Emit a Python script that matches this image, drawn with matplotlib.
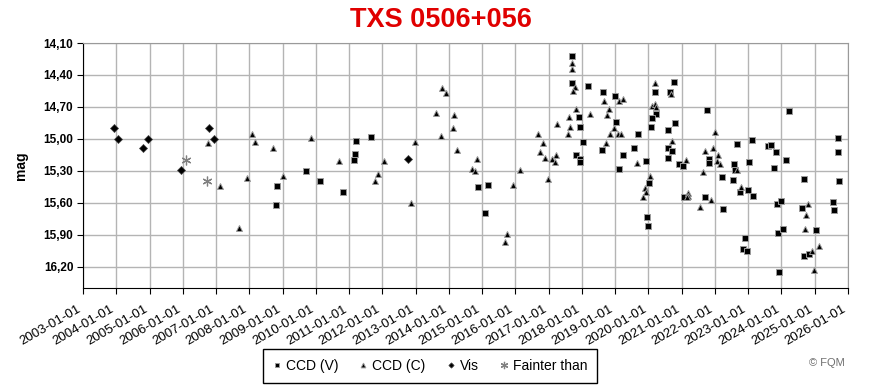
import matplotlib
matplotlib.use("Agg")
import matplotlib.pyplot as plt
import matplotlib.dates as mdates
import matplotlib.transforms as mtransforms
from datetime import datetime, timedelta

plt.rcParams['font.family'] = ['Liberation Sans', 'DejaVu Sans']

# observations: decimal year, magnitude
ccd_v_year = [2008.83, 2008.80, 2009.70, 2010.13, 2010.83, 2011.15, 2011.18, 2011.21, 2011.66,
              2014.86, 2015.17, 2015.09, 2017.69, 2017.69, 2018.19, 2018.64, 2019.00, 2017.91,
              2017.94, 2019.02, 2019.68, 2018.03, 2018.60, 2019.56, 2017.83, 2017.94, 2017.94,
              2019.23, 2019.93, 2019.11, 2020.02, 2019.95, 2019.99, 2020.20, 2020.77, 2020.65,
              2020.24, 2020.12, 2020.08, 2020.80, 2020.58, 2020.60, 2020.72, 2020.60, 2020.91,
              2021.04, 2021.07, 2021.76, 2021.83, 2021.83, 2022.22, 2021.70, 2022.25, 2022.67,
              2022.58, 2022.61, 2022.55, 2023.10, 2022.76, 2023.00, 2023.15, 2023.03, 2022.89,
              2022.85, 2022.95, 2023.60, 2023.67, 2023.82, 2024.15, 2023.76, 2024.24, 2023.87,
              2024.00, 2023.90, 2024.06, 2023.93, 2024.67, 2024.61, 2025.03, 2024.69, 2024.84,
              2025.69, 2025.69, 2025.72, 2025.56, 2025.59]
ccd_v_mag = [15.44, 15.62, 15.30, 15.40, 15.50, 15.20, 15.14, 15.02, 14.98,
             15.45, 15.43, 15.70, 14.22, 14.48, 14.50, 14.56, 14.60, 14.79,
             14.89, 14.84, 14.95, 15.03, 15.10, 15.09, 15.15, 15.19, 15.22,
             15.15, 15.21, 15.28, 15.41, 15.73, 15.82, 14.56, 14.47, 14.56,
             14.77, 14.80, 14.89, 14.85, 14.92, 15.09, 15.11, 15.18, 15.24,
             15.25, 15.55, 14.73, 15.19, 15.23, 15.36, 15.55, 15.66, 15.05,
             15.24, 15.29, 15.39, 15.01, 15.50, 15.48, 15.54, 15.22, 15.93,
             16.03, 16.05, 15.07, 15.06, 15.12, 15.20, 15.27, 14.74, 15.61,
             15.58, 15.88, 15.85, 16.25, 15.38, 15.65, 15.86, 16.10, 16.08,
             14.99, 15.12, 15.40, 15.59, 15.67]

ccd_c_year = [2006.76, 2007.12, 2007.69, 2007.93, 2008.09, 2008.18, 2008.71, 2009.02, 2009.86,
              2010.69, 2012.04, 2011.88, 2011.79, 2012.86, 2012.97, 2013.62, 2013.80, 2013.90,
              2013.75, 2014.14, 2014.12, 2014.24, 2014.84, 2014.68, 2014.78, 2015.75, 2015.68,
              2015.92, 2016.14, 2016.68, 2016.83, 2016.74, 2016.89, 2016.99, 2017.10, 2017.23,
              2017.20, 2017.24, 2017.70, 2017.70, 2017.79, 2017.73, 2017.83, 2017.62, 2017.64,
              2017.59, 2018.24, 2018.66, 2018.80, 2018.74, 2018.71, 2019.11, 2019.22, 2018.97,
              2018.84, 2019.07, 2019.18, 2019.65, 2020.06, 2019.91, 2019.93, 2019.83, 2020.21,
              2020.11, 2020.21, 2020.24, 2020.69, 2020.72, 2021.12, 2021.19, 2021.19, 2021.15,
              2021.54, 2022.01, 2021.70, 2021.94, 2022.10, 2022.05, 2022.16, 2021.64, 2021.89,
              2022.66, 2022.77, 2024.79, 2024.73, 2024.70, 2024.92, 2025.13, 2024.98]
ccd_c_mag = [15.04, 15.44, 15.84, 15.37, 14.95, 15.03, 15.09, 15.35, 14.99,
             15.21, 15.21, 15.33, 15.40, 15.60, 15.03, 14.76, 14.52, 14.57,
             14.97, 14.78, 14.90, 15.10, 15.19, 15.28, 15.30, 15.89, 15.97,
             15.43, 15.29, 14.95, 15.04, 15.12, 15.18, 15.38, 15.19, 15.15,
             15.22, 14.86, 14.29, 14.34, 14.51, 14.55, 14.72, 14.79, 14.89,
             14.95, 14.77, 14.64, 14.72, 14.78, 15.04, 14.64, 14.63, 14.90,
             14.95, 14.95, 14.95, 15.23, 15.35, 15.46, 15.50, 15.55, 14.48,
             14.69, 14.67, 14.70, 14.58, 15.02, 15.20, 15.51, 15.54, 15.55,
             15.64, 14.94, 15.11, 15.09, 15.15, 15.21, 15.24, 15.31, 15.57,
             15.29, 15.45, 15.61, 15.71, 15.85, 16.05, 16.01, 16.23]

vis_year = [2003.93, 2004.05, 2004.94, 2004.79, 2005.94, 2006.79, 2006.93, 2012.78]
vis_mag = [14.90, 15.00, 15.00, 15.09, 15.29, 14.90, 15.00, 15.19]

fainter_year = [2006.10, 2006.73]
fainter_mag = [15.20, 15.40]

y_ticks = [14.10, 14.40, 14.70, 15.00, 15.30, 15.60, 15.90, 16.20]


def to_date(y):
    yr = int(y)
    return datetime(yr, 1, 1) + timedelta(days=(y - yr) * 365.25)


fig = plt.figure(figsize=(8.73, 3.9), dpi=100)
ax = fig.add_axes([0.0951, 0.2615, 0.8763, 0.6282])

ax.plot([to_date(y) for y in ccd_v_year], ccd_v_mag, 's', ms=4.3, color='black',
        mec='#9a9a9a', mew=0.7, label='CCD (V)', zorder=3)
ax.plot([to_date(y) for y in ccd_c_year], ccd_c_mag, '^', ms=4.6, color='black',
        mec='#9a9a9a', mew=0.7, label='CCD (C)', zorder=3)
ax.plot([to_date(y) for y in vis_year], vis_mag, 'D', ms=3.6, color='black',
        mec='#444444', mew=0.5, label='Vis', zorder=3)
ax.plot([to_date(y) for y in fainter_year], fainter_mag, marker=(6, 2, 0), ls='none',
        ms=7, color='#808080', mew=0.9, label='Fainter than', zorder=3)

ax.set_xlim(datetime(2003, 1, 1), datetime(2026, 1, 1))
ax.set_ylim(16.40, 14.10)
ax.xaxis.set_major_locator(mdates.YearLocator())
ax.xaxis.set_major_formatter(mdates.DateFormatter('%Y-%m-%d'))
ax.tick_params(axis='both', direction='out', length=4, width=0.8, color='black')
ax.tick_params(axis='x', pad=7)
ax.tick_params(axis='y', pad=3)

# shift the rotated date labels a little to the left, like the original
shift = mtransforms.ScaledTranslation(-6 / 100, 0, fig.dpi_scale_trans)
for lbl in ax.get_xticklabels():
    lbl.set_rotation(30)
    lbl.set_ha('right')
    lbl.set_rotation_mode('anchor')
    lbl.set_fontsize(9.5)
    lbl.set_transform(lbl.get_transform() + shift)

ax.set_yticks(y_ticks)
ax.set_yticklabels([f"{v:.2f}".replace('.', ',') for v in y_ticks], fontsize=8.5,
                   fontweight='bold')

ax.grid(True, color='#b4b4b4', lw=1)
ax.set_axisbelow(True)
for s in ['top', 'right']:
    ax.spines[s].set_color('#9a9a9a')
for s in ['left', 'bottom']:
    ax.spines[s].set_color('black')

ax.set_ylabel('mag', fontsize=10, fontweight='bold')
ax.yaxis.set_label_coords(-0.072, 0.5)

fig.text(0.505, 0.948, 'TXS 0506+056', ha='center', va='center', color='#e00000',
         fontsize=19.5, fontweight='bold')

leg = fig.legend(loc='center', bbox_to_anchor=(0.4926, 0.0615), ncol=4, frameon=True,
                 fancybox=False, edgecolor='black', framealpha=1, fontsize=10,
                 handlelength=0.6, handletextpad=0.35, columnspacing=1.5,
                 markerscale=0.75, borderpad=0.7)
leg.get_frame().set_linewidth(1)

fig.text(0.947, 0.069, '© FQM', ha='center', va='center', color='#707070', fontsize=8)

fig.savefig('out.png', dpi=100)
